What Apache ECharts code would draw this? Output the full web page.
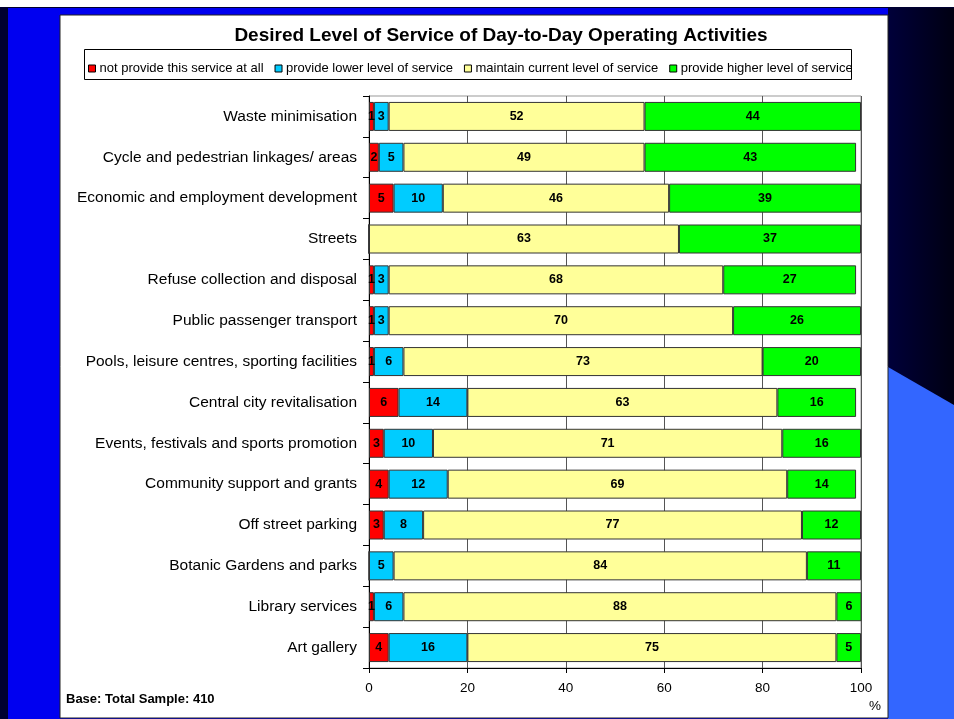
<!DOCTYPE html>
<html>
<head>
<meta charset="utf-8">
<script src="https://cdn.jsdelivr.net/npm/echarts@6/dist/echarts.min.js"></script>
<style>
html,body{margin:0;padding:0;background:#fff;}
#c{width:954px;height:719px;}
</style>
</head>
<body>
<div id="c"></div>
<script>
const categories = [
  "Waste minimisation",
  "Cycle and pedestrian linkages/ areas",
  "Economic and employment development",
  "Streets",
  "Refuse collection and disposal",
  "Public passenger transport",
  "Pools, leisure centres, sporting facilities",
  "Central city revitalisation",
  "Events, festivals and sports promotion",
  "Community support and grants",
  "Off street parking",
  "Botanic Gardens and parks",
  "Library services",
  "Art gallery"
];
const seriesNames = [
  "not provide this service at all",
  "provide lower level of service",
  "maintain current level of service",
  "provide higher level of service"
];
const notProvide = [1, 2, 5, 0, 1, 1, 1, 6, 3, 4, 3, 0, 1, 4];
const lowerLevel = [3, 5, 10, 0, 3, 3, 6, 14, 10, 12, 8, 5, 6, 16];
const maintainLevel = [52, 49, 46, 63, 68, 70, 73, 63, 71, 69, 77, 84, 88, 75];
const higherLevel = [44, 43, 39, 37, 27, 26, 20, 16, 16, 14, 12, 11, 6, 5];
const xTicks = [0, 20, 40, 60, 80, 100];

const colors = ["#ff0000", "#00ccff", "#ffff99", "#00ff00"];
const values = [notProvide, lowerLevel, maintainLevel, higherLevel];
const FONT = "'Liberation Sans', Arial, sans-serif";

const chart = echarts.init(document.getElementById('c'), null, {renderer: 'canvas'});

const series = values.map((vals, i) => ({
  name: seriesNames[i],
  type: 'bar',
  stack: 'total',
  barWidth: 29,
  data: vals,
  itemStyle: {color: colors[i], borderColor: '#333', borderWidth: 1},
  label: {
    show: true,
    position: 'inside',
    color: '#000',
    fontFamily: FONT,
    fontWeight: 'bold',
    fontSize: 12.5,
    formatter: p => (p.value > 0 ? String(p.value) : '')
  },
  emphasis: {disabled: true},
  animation: false
}));

const option = {
  animation: false,
  textStyle: {fontFamily: FONT},
  graphic: [
    // slide background
    {type: 'rect', shape: {x: 0, y: 0, width: 954, height: 719}, style: {fill: '#000030'}, z: -10, silent: true},
    {type: 'rect', shape: {x: 0, y: 0, width: 954, height: 7}, style: {fill: '#ffffff'}, z: -9, silent: true},
    {type: 'rect', shape: {x: 888, y: 8, width: 66, height: 711},
      style: {fill: new echarts.graphic.LinearGradient(0, 0, 1, 0, [{offset: 0, color: '#00003a'}, {offset: 1, color: '#000012'}])}, z: -9, silent: true},
    {type: 'polygon', shape: {points: [[888, 367], [954, 405], [954, 719], [888, 719]]}, style: {fill: '#3366ff'}, z: -8, silent: true},
    {type: 'rect', shape: {x: 8, y: 8, width: 880, height: 711}, style: {fill: '#0000f0'}, z: -9, silent: true},
    {type: 'rect', shape: {x: 60, y: 15, width: 828, height: 703}, style: {fill: '#ffffff', stroke: '#222', lineWidth: 1}, z: -7, silent: true},
    // legend box
    {type: 'rect', shape: {x: 851.5, y: 50, width: 35, height: 29}, style: {fill: '#ffffff'}, z: 100, silent: true},
    {type: 'rect', shape: {x: 84.5, y: 49.5, width: 767, height: 30}, style: {fill: 'none', stroke: '#000', lineWidth: 1}, z: 101, silent: true},
    // texts
    {type: 'text', left: 66, top: 693, style: {text: 'Base: Total Sample: 410', font: "bold 13px 'Liberation Sans', Arial, sans-serif", fill: '#000'}, z: 100, silent: true},
    {type: 'text', left: 869, top: 699, style: {text: '%', font: "13.5px 'Liberation Sans', Arial, sans-serif", fill: '#000'}, z: 100, silent: true}
  ],
  title: {
    text: 'Desired Level of Service of Day-to-Day Operating Activities',
    left: 496, top: 21, textAlign: 'center',
    textStyle: {fontFamily: FONT, fontWeight: 'bold', fontSize: 19, color: '#000'}
  },
  legend: {
    left: 83, top: 57,
    itemWidth: 7, itemHeight: 7, itemGap: 11,
    icon: 'rect',
    itemStyle: {borderColor: '#000', borderWidth: 1},
    textStyle: {fontFamily: FONT, fontSize: 13, color: '#000', padding: [0, 0, 0, -1]},
    data: seriesNames,
    selectedMode: false
  },
  grid: {left: 369, right: 93, top: 96, bottom: 51, show: true, borderColor: '#999', borderWidth: 1, backgroundColor: 'transparent'},
  xAxis: {
    type: 'value', min: 0, max: 100, interval: 20,
    axisLine: {show: true, lineStyle: {color: '#000', width: 1}},
    axisTick: {show: true, length: 5, lineStyle: {color: '#000'}},
    splitLine: {show: true, lineStyle: {color: '#555', width: 1}},
    axisLabel: {color: '#000', fontFamily: FONT, fontSize: 13.5, margin: 13,
      formatter: v => (xTicks.indexOf(v) >= 0 ? String(v) : '')}
  },
  yAxis: {
    type: 'category', data: categories, inverse: true,
    axisLine: {show: true, lineStyle: {color: '#000', width: 1}},
    axisTick: {show: true, length: 6, lineStyle: {color: '#000'}},
    axisLabel: {color: '#000', fontFamily: FONT, fontSize: 15.5, margin: 12}
  },
  series: series
};
chart.setOption(option);
</script>
</body>
</html>
